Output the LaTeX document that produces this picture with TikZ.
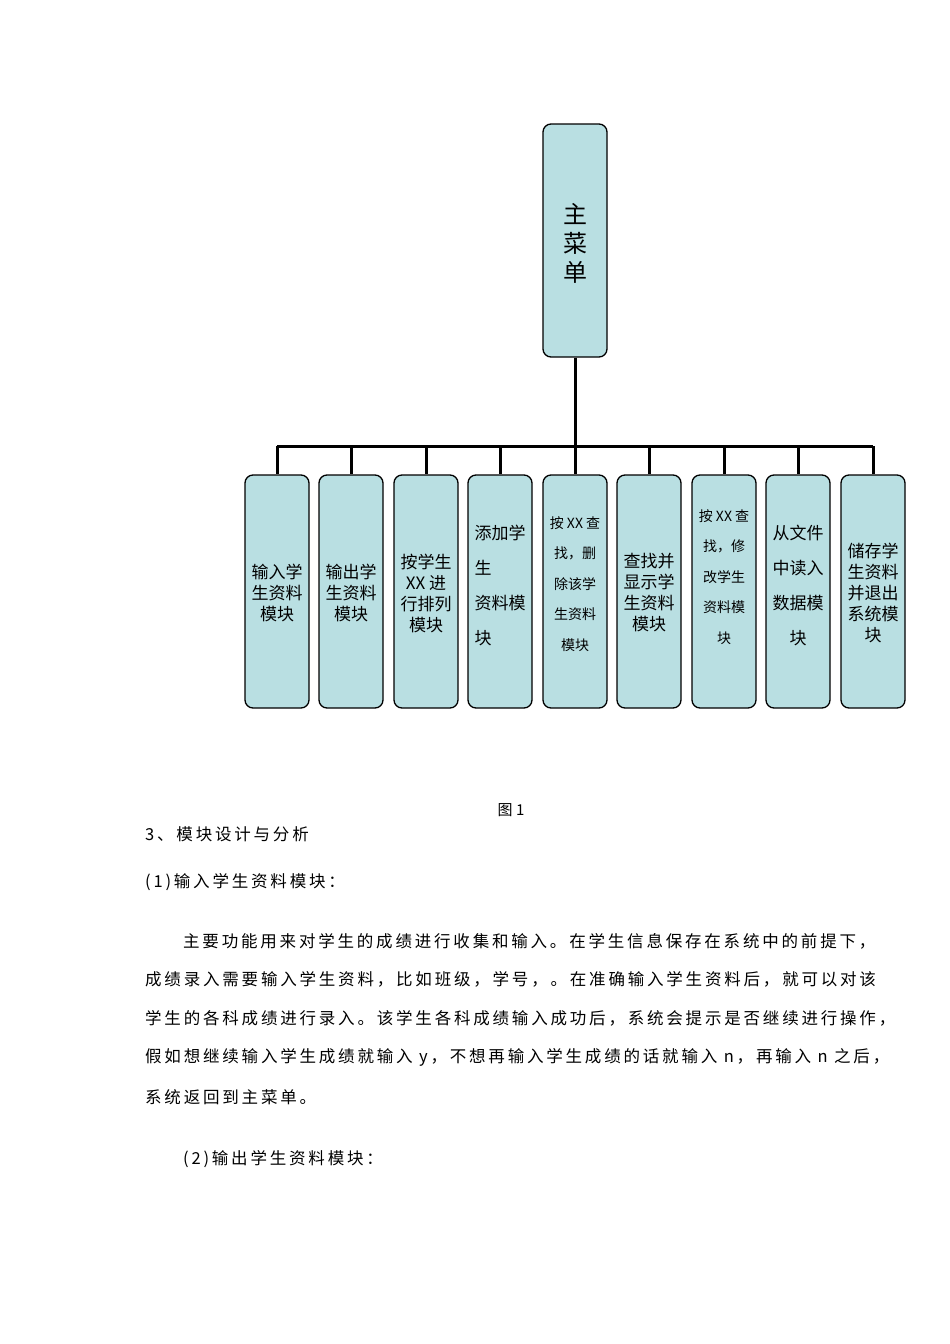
\documentclass[tikz,border=0pt]{standalone}
\usepackage{fontspec}
\newfontfamily\cjk{Noto Sans CJK SC}
\newfontfamily\cjkp{Noto Sans CJK SC}[LetterSpace=17]
\definecolor{boxfill}{HTML}{B9DFE2}
\tikzset{
  box/.style={draw=black,line width=1.3pt,fill=boxfill,rounded corners=8pt,minimum width=64pt,minimum height=233pt,inner sep=0pt},
  conn/.style={line width=3pt},
  lab/.style={font=\cjk\fontsize{17}{21}\selectfont,inner sep=0pt},
  sml/.style={font=\cjk\fontsize{14}{21}\selectfont,inner sep=0pt},
  para/.style={font=\cjkp\fontsize{16.5}{20}\selectfont,anchor=west,inner sep=0pt}
}
\begin{document}
\begin{tikzpicture}[x=1pt,y=-1pt]
\useasboundingbox (0,0) rectangle (950,1344);
\node[box,minimum height=233pt] (main) at (575,240.5) {};
\node[font=\cjk\fontsize{24}{29}\selectfont,align=center,inner sep=0pt] (mt) at (575,243) {主\\菜\\单};
\coordinate (j) at (575,446);
\draw[conn] (main.south) -- (j);
\foreach \i/\x in {1/277,2/351,3/426,4/500,5/575,6/649,7/724,8/798,9/873}{
  \node[box] (c\i) at (\x,591.5) {};
}
\coordinate (l) at (277,446);
\coordinate (r) at (873,446);
\draw[conn] (l) -- (r);
\foreach \i in {1,...,9}{
  \draw[conn] (c\i.north |- j) -- (c\i.north);
}
% labels
\node[lab,align=center] (t1) at (277,593) {输入学\\生资料\\模块};
\node[lab,align=center] (t2) at (351,593) {输出学\\生资料\\模块};
\node[lab,align=center] (t3) at (426,593) {按学生\\XX 进\\行排列\\模块};
\node[lab,align=left,font=\cjk\fontsize{17}{35}\selectfont] (t4) at (500,585) {添加学\\生\\资料模\\块};
\node[sml,align=center,font=\cjk\fontsize{14}{30.5}\selectfont] (t5) at (575,584) {按 XX 查\\找，删\\除该学\\生资料\\模块};
\node[lab,align=center] (t6) at (649,593) {查找并\\显示学\\生资料\\模块};
\node[sml,align=center,font=\cjk\fontsize{14}{30.5}\selectfont] (t7) at (724,577) {按 XX 查\\找，修\\改学生\\资料模\\块};
\node[lab,align=center,font=\cjk\fontsize{17}{35}\selectfont] (t8) at (798,585) {从文件\\中读入\\数据模\\块};
\node[lab,align=center] (t9) at (873,593) {储存学\\生资料\\并退出\\系统模\\块};
% text
\node[font=\cjk\fontsize{15}{20}\selectfont,inner sep=0pt] (fig) at (511,810) {图 1};
\node[para] (h3) at (145,834) {3、模块设计与分析};
\node[para] (h1) at (145,882) {(1)输入学生资料模块：};
\node[para] (p1) at (183,941) {主要功能用来对学生的成绩进行收集和输入。在学生信息保存在系统中的前提下，};
\node[para] (p2) at (145,979) {成绩录入需要输入学生资料，比如班级，学号，。在准确输入学生资料后，就可以对该};
\node[para] (p3) at (145,1018) {学生的各科成绩进行录入。该学生各科成绩输入成功后，系统会提示是否继续进行操作，};
\node[para] (p4) at (145,1057) {假如想继续输入学生成绩就输入 y，不想再输入学生成绩的话就输入 n，再输入 n 之后，};
\node[para] (p5) at (145,1097) {系统返回到主菜单。};
\node[para] (h2) at (183,1159) {(2)输出学生资料模块：};
\end{tikzpicture}
\end{document}
